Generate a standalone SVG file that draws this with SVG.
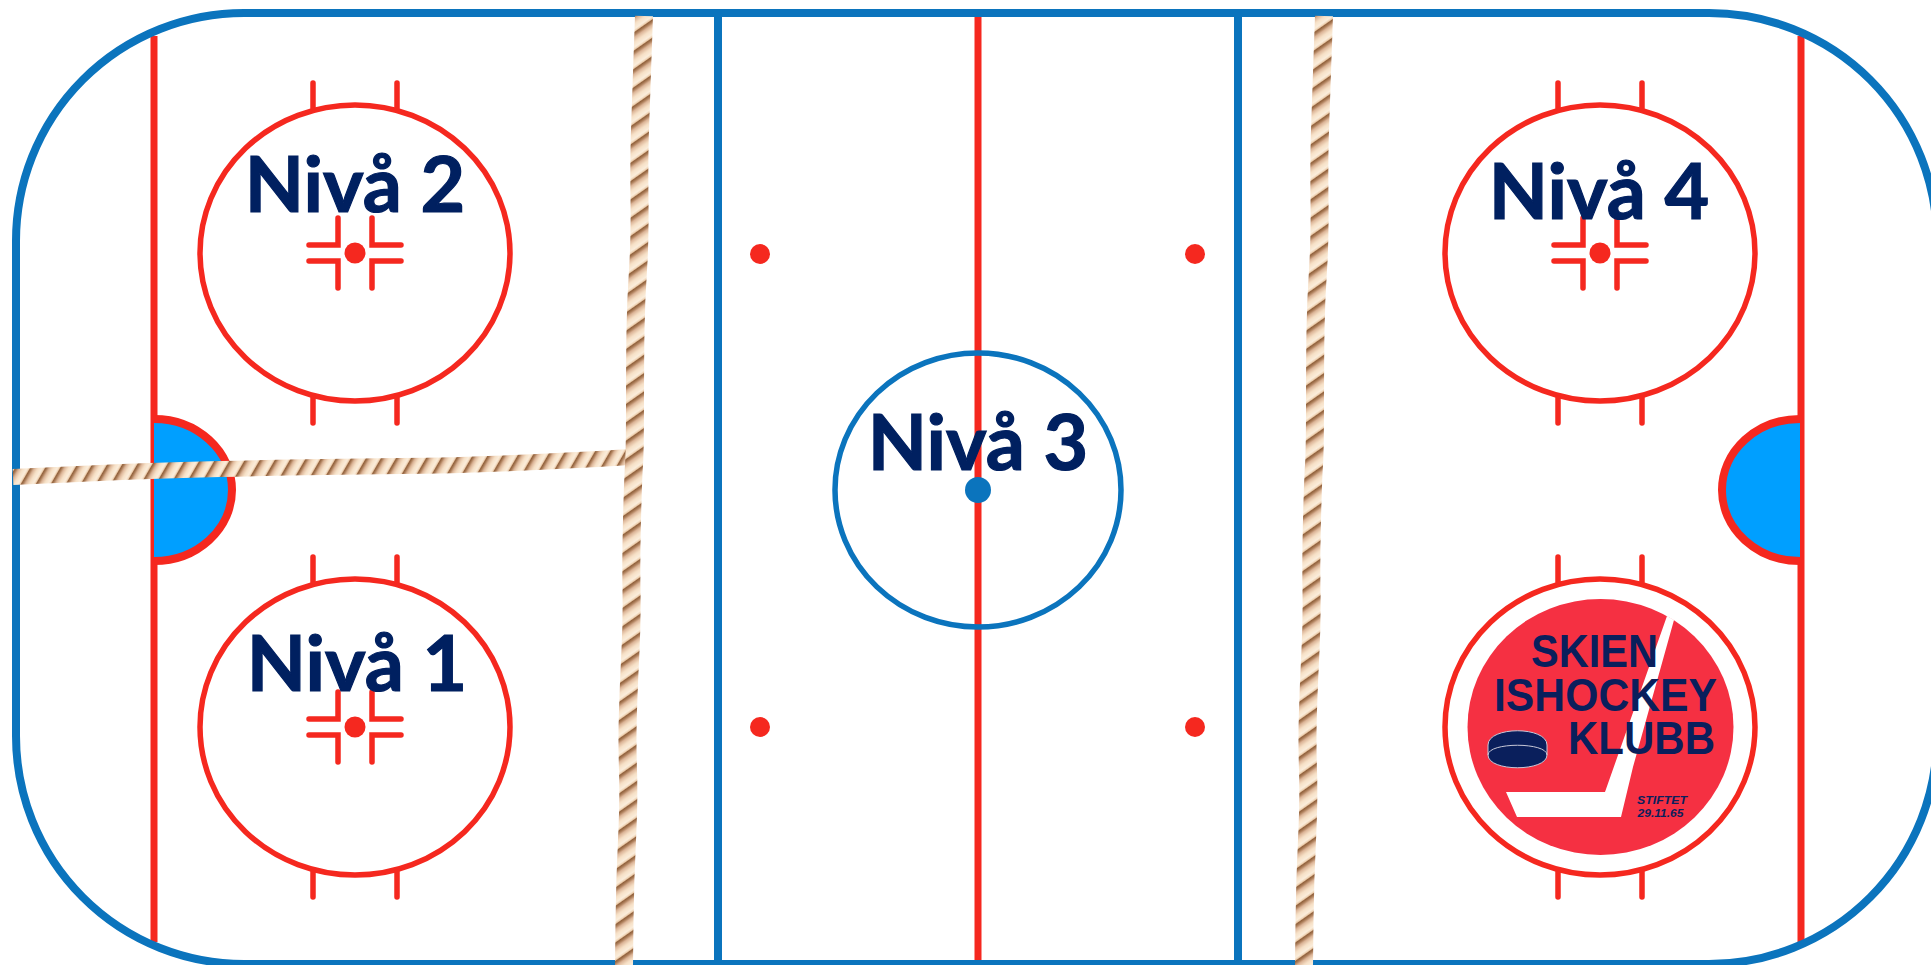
<svg xmlns="http://www.w3.org/2000/svg" width="1931" height="965" viewBox="0 0 1931 965">
<defs>
<linearGradient id="strand" x1="0" y1="0" x2="0" y2="1">
<stop offset="0" stop-color="#8a5a36"/>
<stop offset=".14" stop-color="#a97a55"/>
<stop offset=".3" stop-color="#dcb598"/>
<stop offset=".55" stop-color="#f6e0c6"/>
<stop offset=".85" stop-color="#fbeedd"/>
<stop offset="1" stop-color="#e6c09a"/>
</linearGradient>
<pattern id="ropeV" patternUnits="userSpaceOnUse" width="60" height="15" patternTransform="rotate(-35)">
<rect width="60" height="15" fill="url(#strand)"/>
</pattern>
<pattern id="ropeH" patternUnits="userSpaceOnUse" width="60" height="13" patternTransform="rotate(-60)">
<rect width="60" height="13" fill="url(#strand)"/>
</pattern>
<g id="dot-cross" fill="none" stroke="#f5281f" stroke-width="5.5" stroke-linecap="round">
<path d="M-46 -8H-17V-35M46 -8H17V-35M-46 8H-17V35M46 8H17V35"/>
<circle r="10.5" fill="#f5281f" stroke="none"/>
</g>
<g id="faceoff" fill="none" stroke="#f5281f">
<ellipse rx="155" ry="148" stroke-width="5.5"/>
<path d="M-42 -145V-170M42 -145V-170M-42 145V170M42 145V170" stroke-width="5.5" stroke-linecap="round"/>
</g>
</defs>
<style>
.red{fill:none;stroke:#f5281f;stroke-width:7}
.blue{fill:none;stroke:#0b74bd;stroke-width:8}
.lab{font-family:Lato,"Noto Sans",sans-serif;font-weight:700;font-size:77px;fill:#002060;stroke:#002060;stroke-width:1.2;text-anchor:middle}
.logo{font-family:"Liberation Sans",Arial,sans-serif;font-weight:700;fill:#0a1f5c}
.rv{fill:none;stroke:url(#ropeV);stroke-width:18;stroke-linejoin:round}
.rh{fill:none;stroke:url(#ropeH);stroke-width:16;stroke-linejoin:round}
</style>
<rect width="1931" height="965" fill="#fff"/>
<g id="rink-lines">
<path class="red" d="M154 36V942M1801 36V942"/>
<path class="red" d="M978 15V965"/>
<rect x="16" y="13" width="1921" height="951" rx="228" ry="228" class="blue"/>
<path class="blue" d="M718 13V965M1238 13V965"/>
</g>
<g id="crease-left"><path d="M154 419A78 71 0 0 1 154 561" fill="#009fff" stroke="#f5281f" stroke-width="8"/></g>
<g id="crease-right"><path d="M1800 419A78 71 0 0 0 1800 561" fill="#009fff" stroke="#f5281f" stroke-width="8"/></g>
<g id="circle-2"><use href="#faceoff" x="355" y="253"/><use href="#dot-cross" x="355" y="253"/></g>
<g id="circle-1"><use href="#faceoff" x="355" y="727"/><use href="#dot-cross" x="355" y="727"/></g>
<g id="circle-4"><use href="#faceoff" x="1600" y="253"/><use href="#dot-cross" x="1600" y="253"/></g>
<g id="circle-logo"><use href="#faceoff" x="1600" y="727"/></g>
<g id="center-circle"><ellipse cx="978" cy="490" rx="143" ry="137" fill="none" stroke="#0b74bd" stroke-width="5.5"/><circle cx="978" cy="490" r="13" fill="#0b74bd"/></g>
<g id="neutral-dots" fill="#f5281f">
<circle cx="760" cy="254" r="10"/><circle cx="1195" cy="254" r="10"/><circle cx="760" cy="727" r="10"/><circle cx="1195" cy="727" r="10"/>
</g>
<g id="logo">
<ellipse cx="1600.5" cy="727" rx="133" ry="128" fill="#f53042"/>
<path d="M1667 616L1674 620L1633 767L1621 817H1517L1506 792H1605Z" fill="#fff"/>
<text class="logo" x="1531" y="667" font-size="46" textLength="127" lengthAdjust="spacingAndGlyphs">SKIEN</text>
<text class="logo" x="1494" y="711" font-size="46" textLength="223" lengthAdjust="spacingAndGlyphs">ISHOCKEY</text>
<text class="logo" x="1568" y="754" font-size="46" textLength="147" lengthAdjust="spacingAndGlyphs">KLUBB</text>
<path d="M1488 745C1488 726 1547 726 1547 745V755C1547 772 1488 772 1488 755Z" fill="#0a1f5c" stroke="#c8c8d8" stroke-width="1"/>
<path d="M1488 755C1488 742 1547 742 1547 755" fill="none" stroke="#c8c8d8" stroke-width="1"/>
<text class="logo" x="1637" y="804" font-size="11.5" font-style="italic" textLength="50" lengthAdjust="spacingAndGlyphs">STIFTET</text>
<text class="logo" x="1637.5" y="817" font-size="11.5" font-style="italic" textLength="46" lengthAdjust="spacingAndGlyphs">29.11.65</text>
</g>
<g id="ropes">
<path class="rh" d="M13 477Q60 475 100 473T220 469T400 466T630 457"/>
<path class="rv" d="M644 16L642.5 58Q641 100 640 130Q639 160 639.5 200Q640 240 638 270Q636 300 635.5 330Q635 360 635 405Q635 450 634 465Q633 480 632 520Q631 560 631.5 590Q632 620 630.5 650Q629 680 628 710Q627 740 628 770Q629 800 627 840Q625 880 624.5 922L624 965"/>
<path class="rv" d="M1324 16L1322.5 58Q1321 100 1320 130Q1319 160 1319.5 200Q1320 240 1318 270Q1316 300 1315.5 330Q1315 360 1315 405Q1315 450 1314 465Q1313 480 1312 520Q1311 560 1311.5 590Q1312 620 1310.5 650Q1309 680 1308 710Q1307 740 1308 770Q1309 800 1307 840Q1305 880 1304.5 922L1304 965"/>
</g>
<g id="labels">
<text class="lab" x="355" y="212">Nivå 2</text>
<text class="lab" x="357" y="691">Nivå 1</text>
<text class="lab" x="978" y="470">Nivå 3</text>
<text class="lab" x="1599" y="219">Nivå 4</text>
</g>
</svg>
